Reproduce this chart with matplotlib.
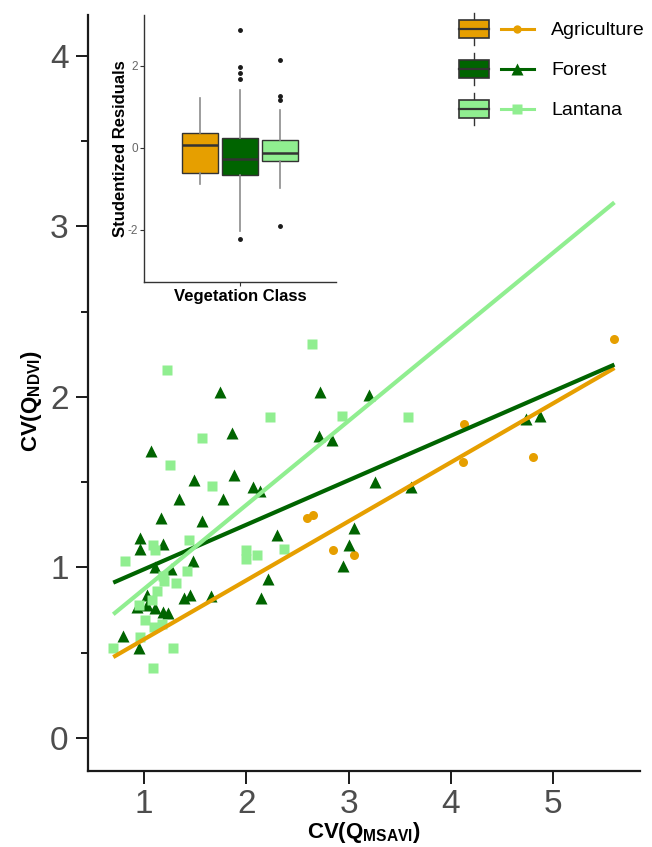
import numpy as np
import matplotlib
matplotlib.use("Agg")
import matplotlib.pyplot as plt
from matplotlib.patches import Rectangle
from matplotlib.lines import Line2D
from matplotlib.legend_handler import HandlerBase

plt.rcParams['font.family'] = ['Liberation Sans', 'DejaVu Sans']
plt.rcParams['mathtext.fontset'] = 'custom'
plt.rcParams['mathtext.rm'] = 'Liberation Sans'
plt.rcParams['mathtext.bf'] = 'Liberation Sans:bold'

# ---- data ----
classes = ['Agriculture', 'Forest', 'Lantana']
colors = ['#E69F00', '#006400', '#90EE90']
markers = ['o', '^', 's']

agri_x = [2.59, 2.65, 2.85, 3.05, 4.12, 4.13, 4.80, 5.60]
agri_y = [1.29, 1.31, 1.10, 1.07, 1.62, 1.84, 1.65, 2.34]

forest_x = [1.745, 1.86, 1.07, 1.88, 1.49, 2.07, 2.13, 1.34, 1.77, 1.17, 1.57, 0.96,
            0.96, 1.19, 2.30, 1.48, 1.11, 1.26, 2.21, 2.14, 1.03, 1.39, 1.45, 0.93,
            1.03, 1.11, 1.19, 1.24, 1.66, 0.80, 0.95, 2.72, 3.20, 2.71, 2.84, 3.26,
            3.61, 3.05, 3.00, 2.95, 4.74, 4.87]
forest_y = [2.03, 1.79, 1.68, 1.54, 1.51, 1.47, 1.45, 1.40, 1.40, 1.29, 1.27, 1.17,
            1.11, 1.14, 1.19, 1.04, 1.00, 0.99, 0.93, 0.82, 0.84, 0.82, 0.84, 0.77,
            0.78, 0.76, 0.74, 0.73, 0.83, 0.60, 0.53, 2.03, 2.01, 1.77, 1.75, 1.50,
            1.47, 1.23, 1.13, 1.01, 1.87, 1.89]

lantana_x = [1.23, 2.23, 1.57, 1.25, 1.67, 1.09, 1.11, 0.81, 1.44, 2.00, 2.00, 2.11,
             1.42, 1.19, 1.20, 1.31, 1.13, 1.08, 0.95, 1.01, 1.10, 1.18, 0.96, 0.70,
             1.28, 1.09, 2.64, 2.94, 3.58, 2.37]
lantana_y = [2.16, 1.88, 1.76, 1.60, 1.48, 1.13, 1.10, 1.04, 1.16, 1.10, 1.05, 1.07,
             0.98, 0.95, 0.92, 0.91, 0.86, 0.81, 0.78, 0.69, 0.65, 0.67, 0.59, 0.53,
             0.53, 0.41, 2.31, 1.89, 1.88, 1.11]

# fitted lines (intercept, slope)
fit_intercept = [0.232, 0.728, 0.380]
fit_slope = [0.346, 0.261, 0.493]

# inset boxplot summary (studentized residuals)
box_q1 = [-0.61, -0.66, -0.31]
box_med = [0.07, -0.27, -0.12]
box_q3 = [0.37, 0.25, 0.20]
box_lo = [-0.88, -2.02, -0.99]
box_hi = [1.22, 1.40, 0.93]
box_fliers = [[], [2.88, 1.98, 1.83, 1.67, -2.21], [2.15, 1.27, 1.17, -1.90]]

xs = [agri_x, forest_x, lantana_x]
ys = [agri_y, forest_y, lantana_y]
msizes = [6.5, 9, 7.5]

fig = plt.figure(figsize=(6.52, 8.47), dpi=100)
ax = fig.add_axes([88/652, 1-771/847, 552/652, 756/847])

for x, y, c, m, ms in zip(xs, ys, colors, markers, msizes):
    ax.plot(x, y, ls='none', marker=m, ms=ms, color=c, mec='none', zorder=2)

all_x = np.concatenate([np.array(v) for v in xs])
x_line = np.array([all_x.min(), all_x.max()])
for b0, b1, c in zip(fit_intercept, fit_slope, colors):
    ax.plot(x_line, b0 + b1 * x_line, color=c, lw=3, solid_capstyle='butt', zorder=3)

ax.set_xlim(0.453, 5.85)
ax.set_ylim(-0.194, 4.24)
ax.set_xticks([1, 2, 3, 4, 5])
ax.set_yticks([0, 1, 2, 3, 4])
ax.set_yticks(np.arange(0.5, 4.0, 1.0), minor=True)
for s in ['top', 'right']:
    ax.spines[s].set_visible(False)
for s in ['left', 'bottom']:
    ax.spines[s].set_linewidth(1.6)
    ax.spines[s].set_color('#1a1a1a')
ax.tick_params(which='major', length=9, width=1.4, color='#1a1a1a',
               labelsize=24, labelcolor='#4d4d4d')
ax.tick_params(axis='y', which='major', pad=5)
ax.tick_params(axis='x', which='major', pad=4)
ax.tick_params(axis='y', which='minor', length=5, width=1.4, color='#1a1a1a')

ax.set_xlabel(r'$\mathbf{CV(Q_{MSAVI})}$', fontsize=16, va='center')
ax.xaxis.set_label_coords(0.5, -0.082)
ax.set_ylabel(r'$\mathbf{CV(Q_{NDVI})}$', fontsize=16, va='center')
ax.yaxis.set_label_coords(-0.102, 0.49)

# ---- inset boxplot ----
ins = fig.add_axes([144/652, 1-282/847, 192/652, 267/847])
stats = []
for i in range(3):
    stats.append(dict(med=box_med[i], q1=box_q1[i], q3=box_q3[i],
                      whislo=box_lo[i], whishi=box_hi[i], fliers=box_fliers[i]))
bp = ins.bxp(stats, positions=[0.75, 1.0, 1.25], widths=0.23, patch_artist=True,
             showcaps=False,
             boxprops=dict(edgecolor='#333333', linewidth=1.0),
             medianprops=dict(color='#333333', linewidth=1.8),
             whiskerprops=dict(color='#8c8c8c', linewidth=1.2),
             flierprops=dict(marker='o', markersize=2.5, markerfacecolor='#1a1a1a',
                             markeredgecolor='#1a1a1a'))
for patch, c in zip(bp['boxes'], colors):
    patch.set_facecolor(c)
ins.set_xlim(0.4, 1.6)
ins.set_ylim(-3.27, 3.24)
ins.set_xticks([1.0])
ins.set_xticklabels([''])
ins.set_yticks([-2, 0, 2])
ins.set_yticklabels(['-2', '0', '2'])
for s in ['top', 'right']:
    ins.spines[s].set_visible(False)
for s in ['left', 'bottom']:
    ins.spines[s].set_linewidth(1.0)
    ins.spines[s].set_color('#333333')
ins.tick_params(length=3, width=0.8, color='#333333', labelsize=8.5,
                labelcolor='#666666', pad=1.5)
ins.patch.set_alpha(0)
ins.set_ylabel('Studentized Residuals', fontsize=12, fontweight='bold', va='center')
ins.yaxis.set_label_coords(-0.12, 0.5)
ins.set_xlabel('Vegetation Class', fontsize=12, fontweight='bold', va='center')
ins.xaxis.set_label_coords(0.5, -0.056)


# ---- legend: box glyph + line glyph ----
class Key:
    def __init__(self, color, marker, ms):
        self.color = color
        self.marker = marker
        self.ms = ms


class BoxLineHandler(HandlerBase):
    def create_artists(self, legend, h, xd, yd, width, height, fontsize, trans):
        x0, y0 = -xd, -yd
        bw = 0.40 * width
        art = []
        art.append(Line2D([x0 + bw/2, x0 + bw/2], [y0, y0 + height],
                          color='#333333', lw=1.0, transform=trans))
        art.append(Rectangle((x0, y0 + 0.22*height), bw, 0.56*height,
                             facecolor=h.color, edgecolor='#333333', lw=1.2,
                             transform=trans))
        art.append(Line2D([x0, x0 + bw], [y0 + 0.5*height]*2, color='#333333',
                          lw=1.6, transform=trans))
        lx = [x0 + 0.56*width, x0 + width]
        art.append(Line2D(lx, [y0 + 0.5*height]*2, color=h.color, lw=2.2,
                          transform=trans))
        art.append(Line2D([(lx[0] + lx[1]) / 2], [y0 + 0.5*height], ls='none',
                          marker=h.marker, ms=h.ms, color=h.color, mec='none',
                          transform=trans))
        return art


keys = [Key(c, m, ms) for c, m, ms in zip(colors, markers, [6, 8, 6.5])]
fig.legend(keys, classes, handler_map={Key: BoxLineHandler()},
           loc='upper left', bbox_to_anchor=(459/652, 1-13/847),
           bbox_transform=fig.transFigure, frameon=False, fontsize=14,
           handlelength=3.85, handleheight=2.15, handletextpad=0.9,
           labelspacing=0.41, borderpad=0, borderaxespad=0)

fig.savefig('out.png', dpi=100)
